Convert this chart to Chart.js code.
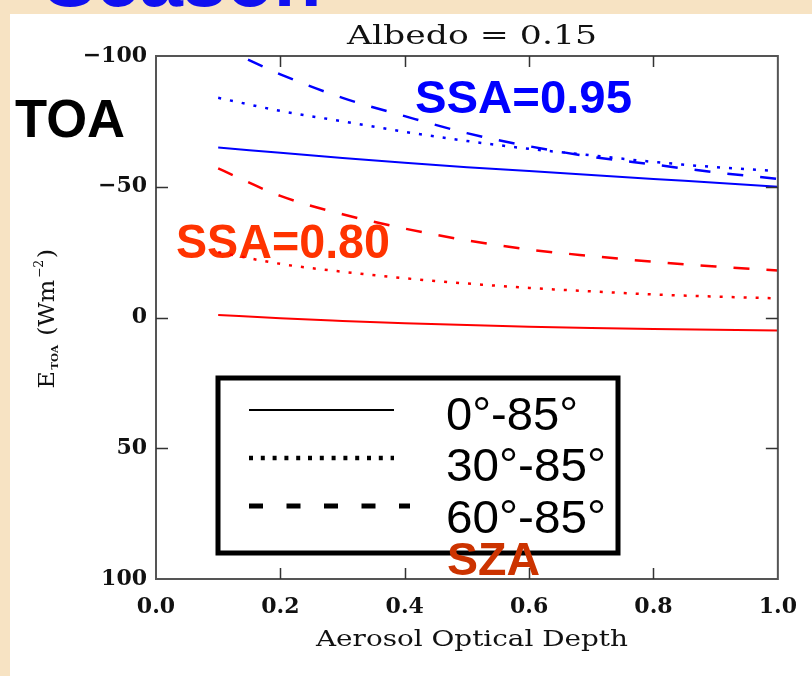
<!DOCTYPE html>
<html lang="en">
<head>
  <meta charset="UTF-8">
  <title>Albedo = 0.15</title>
  <script src="https://cdn.jsdelivr.net/npm/chart.js"></script>
  <style>
    * { box-sizing: border-box; }
    body {
      margin: 0;
      width: 812px;
      height: 676px;
      overflow: hidden;
      background-color: #f7e3c3;
      position: relative;
      font-family: Arial, sans-serif;
    }
    .season {
      position: absolute;
      left: 44px;
      top: -66px;
      font: bold 78px "Liberation Sans", Arial, sans-serif;
      line-height: 90px;
      color: #1010f0;
    }
    .panel {
      position: absolute;
      left: 10px;
      top: 14px;
      width: 802px;
      height: 662px;
      background: #fff;
    }
    canvas {
      position: absolute;
      left: 0;
      top: 0;
    }
  </style>
</head>
<body>
  <div class="season">Season</div>
  <div class="panel"></div>
  <canvas id="toaChart" width="812" height="676"></canvas>

  <script>
    // aerosol optical depth (x)
    const aod = [0.1, 0.2, 0.3, 0.4, 0.5, 0.6, 0.7, 0.8, 0.9, 1.0];

    // E_TOA, SSA = 0.95
    const ssa95sza0  = [-65, -63, -61, -59.2, -57.5, -56, -54.5, -53, -51.5, -50];
    const ssa95sza30 = [-84, -79, -75, -71, -67.5, -64.5, -62, -59.5, -57.5, -56];
    const ssa95sza60 = [-104, -93, -84, -77, -70.5, -65.5, -61.5, -58.5, -55.5, -53];

    // E_TOA, SSA = 0.80
    const ssa80sza0  = [-1, 0.3, 1.3, 2.2, 2.9, 3.5, 4, 4.4, 4.7, 5];
    const ssa80sza30 = [-25, -20.5, -17.5, -15, -13, -11.3, -10, -8.8, -8, -7.3];
    const ssa80sza60 = [-57, -46.5, -39.5, -34, -29.5, -26, -23.5, -21.3, -19.5, -18];

    const xTicks = [0.0, 0.2, 0.4, 0.6, 0.8, 1.0];
    const yTicks = [-100, -50, 0, 50, 100];
    const szaLabels = ['0°-85°', '30°-85°', '60°-85°'];

    const BLUE = '#0000ff';
    const RED = '#ff0000';
    const DOT = [3, 9];
    const DASH = [16, 17];
    const SERIF = '"DejaVu Serif", "Liberation Serif", serif';

    function series(ys) {
      return aod.map((x, i) => ({ x: x, y: ys[i] }));
    }

    function line(ys, color, dash) {
      return {
        data: series(ys),
        borderColor: color,
        borderWidth: dash.length ? 2.5 : 2,
        borderDash: dash,
        pointRadius: 0,
        fill: false,
        cubicInterpolationMode: 'monotone'
      };
    }

    // draw a string stretched horizontally to a given width
    function fitText(ctx, str, x, y, width) {
      const w0 = ctx.measureText(str).width;
      ctx.save();
      ctx.textAlign = 'left';
      ctx.translate(x, y);
      ctx.scale(width / w0, 1);
      ctx.fillText(str, 0, 0);
      ctx.restore();
    }

    const decorations = {
      id: 'decorations',
      beforeDatasetsDraw(chart) {
        const ctx = chart.ctx;
        ctx.save();
        ctx.textBaseline = 'alphabetic';
        ctx.font = 'bold 54px "Liberation Sans", Arial, sans-serif';
        ctx.fillStyle = '#000';
        fitText(ctx, 'TOA', 15, 137, 110);
        ctx.font = 'bold 46px "Liberation Sans", Arial, sans-serif';
        ctx.fillStyle = '#0000ff';
        fitText(ctx, 'SSA=0.95', 415, 113, 217);
        ctx.font = 'bold 48px "Liberation Sans", Arial, sans-serif';
        ctx.fillStyle = '#ff3300';
        fitText(ctx, 'SSA=0.80', 176, 258, 214);
        ctx.restore();
      },
      afterDraw(chart) {
        const ctx = chart.ctx;
        const a = chart.chartArea;
        const xs = chart.scales.x;
        const ys = chart.scales.y;
        ctx.save();

        // frame
        ctx.strokeStyle = '#555';
        ctx.lineWidth = 2;
        ctx.strokeRect(a.left, a.top, a.right - a.left, a.bottom - a.top);

        // inward tick marks on all four sides
        ctx.strokeStyle = '#333';
        ctx.lineWidth = 1.5;
        ctx.beginPath();
        xTicks.slice(1, -1).forEach(v => {
          const px = Math.round(xs.getPixelForValue(v)) + 0.5;
          ctx.moveTo(px, a.bottom); ctx.lineTo(px, a.bottom - 11);
          ctx.moveTo(px, a.top); ctx.lineTo(px, a.top + 11);
        });
        yTicks.slice(1, -1).forEach(v => {
          const py = Math.round(ys.getPixelForValue(v)) + 0.5;
          ctx.moveTo(a.left, py); ctx.lineTo(a.left + 12, py);
          ctx.moveTo(a.right, py); ctx.lineTo(a.right - 12, py);
        });
        ctx.stroke();

        // titles
        ctx.fillStyle = '#111';
        ctx.textBaseline = 'alphabetic';
        ctx.font = '26px ' + SERIF;
        fitText(ctx, 'Albedo = 0.15', 347, 44, 250);
        ctx.font = '23px ' + SERIF;
        fitText(ctx, 'Aerosol Optical Depth', 316, 646, 312);

        // y label: E_TOA (Wm^-2)
        ctx.save();
        ctx.translate(54, 318);
        ctx.rotate(-Math.PI / 2);
        const parts = [
          { t: 'E', f: '23px ' + SERIF, dy: 0 },
          { t: 'TOA', f: 'bold 10px ' + SERIF, dy: 4 },
          { t: ' (Wm', f: '23px ' + SERIF, dy: 0 },
          { t: '−2', f: '12px ' + SERIF, dy: -11 },
          { t: ')', f: '23px ' + SERIF, dy: 0 }
        ];
        let total = 0;
        parts.forEach(p => { ctx.font = p.f; p.w = ctx.measureText(p.t).width + 1.5; total += p.w; });
        const k = 141 / total;
        ctx.scale(k, 1);
        let cx = -total / 2;
        ctx.textAlign = 'left';
        parts.forEach(p => { ctx.font = p.f; ctx.fillText(p.t, cx, p.dy); cx += p.w; });
        ctx.restore();

        // SZA legend box
        const bx = 218, by = 378, bw = 400, bh = 175;
        ctx.fillStyle = '#fff';
        ctx.fillRect(bx, by, bw, bh);
        ctx.strokeStyle = '#000';
        ctx.lineWidth = 5;
        ctx.strokeRect(bx, by, bw, bh);

        const rows = [
          { y: 410, w: 2, dash: [] },
          { y: 458, w: 4.5, dash: [4, 7.8] },
          { y: 506, w: 5, dash: [14, 23.5] }
        ];
        rows.forEach((r, i) => {
          ctx.beginPath();
          ctx.lineWidth = r.w;
          ctx.setLineDash(r.dash);
          ctx.lineCap = 'butt';
          ctx.moveTo(249, r.y);
          ctx.lineTo(i === 2 ? 410 : 394, r.y);
          ctx.stroke();
          ctx.setLineDash([]);
          ctx.fillStyle = '#000';
          ctx.font = '46px "Liberation Sans", Arial, sans-serif';
          ctx.textBaseline = 'alphabetic';
          fitText(ctx, szaLabels[i], 446, [430, 481, 533][i], [132, 160, 160][i]);
        });

        ctx.textBaseline = 'alphabetic';
        ctx.font = 'bold 46px "Liberation Sans", Arial, sans-serif';
        ctx.fillStyle = '#cc3300';
        fitText(ctx, 'SZA', 447, 575, 93);
        ctx.restore();
      }
    };

    window.addEventListener('load', function() {
      const ctx = document.getElementById('toaChart').getContext('2d');
      new Chart(ctx, {
        type: 'line',
        data: {
          datasets: [
            line(ssa80sza0, RED, []),
            line(ssa80sza30, RED, DOT),
            line(ssa80sza60, RED, DASH),
            line(ssa95sza0, BLUE, []),
            line(ssa95sza30, BLUE, DOT),
            line(ssa95sza60, BLUE, DASH)
          ]
        },
        options: {
          responsive: false,
          animation: false,
          layout: { padding: { top: 56, right: 23, left: 0, bottom: 0 } },
          plugins: {
            legend: { display: false },
            tooltip: { enabled: false }
          },
          scales: {
            x: {
              type: 'linear',
              min: 0,
              max: 1,
              afterBuildTicks: s => { s.ticks = xTicks.map(v => ({ value: v })); },
              afterFit: s => { s.height = 97; },
              grid: { display: false, drawTicks: false },
              border: { display: false },
              ticks: {
                maxRotation: 0,
                padding: 15,
                color: '#111',
                font: { family: 'DejaVu Serif', size: 22, weight: 'bold' },
                callback: v => v.toFixed(1)
              }
            },
            y: {
              type: 'linear',
              min: -100,
              max: 100,
              reverse: true,
              afterBuildTicks: s => { s.ticks = yTicks.map(v => ({ value: v })); },
              afterFit: s => { s.width = 156; },
              grid: { display: false, drawTicks: false },
              border: { display: false },
              ticks: {
                padding: 9,
                color: '#111',
                font: { family: 'DejaVu Serif', size: 22, weight: 'bold' },
                callback: v => (v < 0 ? '−' + Math.abs(v) : String(v))
              }
            }
          }
        },
        plugins: [decorations]
      });
    });
  </script>
</body>
</html>
